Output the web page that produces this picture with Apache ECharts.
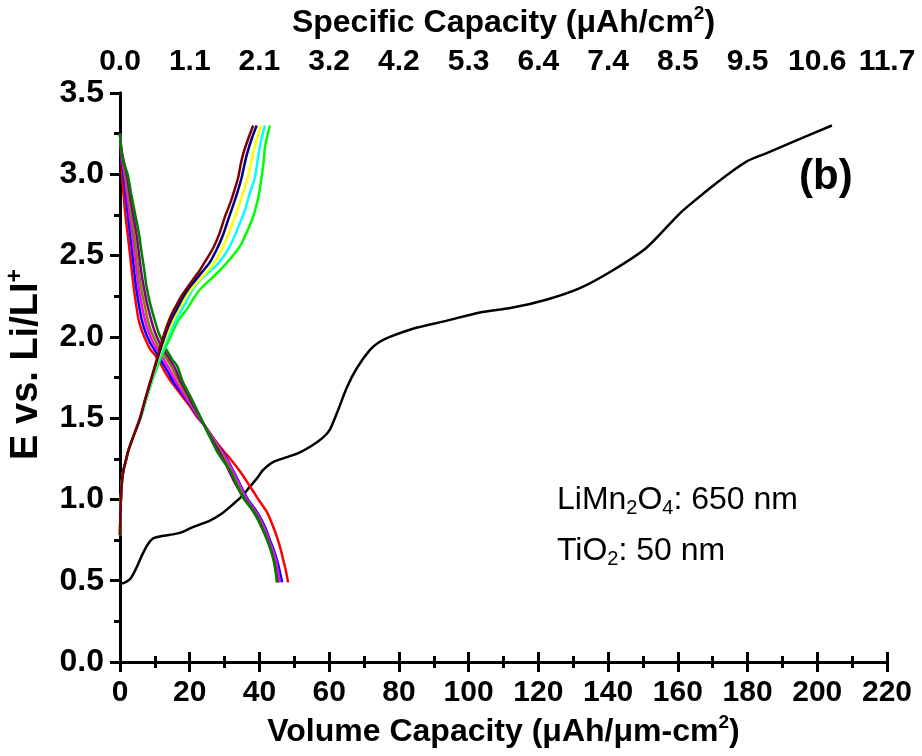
<!DOCTYPE html>
<html>
<head>
<meta charset="utf-8">
<script src="https://cdn.jsdelivr.net/npm/echarts@6/dist/echarts.min.js"></script>
<style>
  html, body { margin: 0; padding: 0; background: #fff; }
  #chart { width: 922px; height: 756px; }
</style>
</head>
<body>
<div id="chart"></div>
<script>
// Volume capacity (µAh/µm-cm²) vs. potential (V vs. Li/Li+), pairs of [capacity, E]

// Long first-cycle charge curve
const firstCharge = [[0,0.48],[1.5,0.49],[2.9,0.51],[4.5,0.57],[6.6,0.67],[8.2,0.73],[9.5,0.76],[12,0.775],[15.2,0.785],[18,0.80],[20.9,0.83],[25.8,0.87],[29,0.91],[32.4,0.97],[35,1.02],[37.3,1.08],[39.3,1.13],[41,1.18],[43.9,1.23],[47.9,1.26],[51.6,1.29],[55,1.33],[58.2,1.38],[60.2,1.43],[62.2,1.53],[65.1,1.69],[68,1.81],[71.7,1.92],[74.5,1.97],[77.4,2.0],[84,2.05],[93.8,2.10],[103.2,2.15],[112.7,2.18],[122.5,2.23],[131.9,2.30],[141.4,2.41],[151.1,2.55],[160.6,2.76],[165.5,2.85],[170.1,2.93],[175,3.01],[179.8,3.08],[185.5,3.13],[194.2,3.21],[204.2,3.30]];

// Discharge curves
const dischargeRed = [[0,3.25],[0.3,3.12],[0.6,3.0],[1.0,2.88],[1.5,2.76],[2.1,2.65],[2.8,2.52],[3.4,2.40],[3.9,2.31],[4.6,2.20],[5.4,2.10],[6.4,2.03],[7.6,1.97],[8.8,1.92],[10.0,1.89],[11.5,1.84],[13.0,1.78],[14.8,1.72],[17.3,1.65],[19.8,1.58],[22.0,1.51],[24.4,1.45],[27.0,1.37],[29.6,1.30],[31.6,1.25],[34.5,1.17],[37.3,1.08],[40.0,0.99],[42.2,0.92],[43.8,0.84],[45.0,0.77],[46.0,0.70],[46.8,0.63],[47.6,0.56],[48.2,0.49]];
const dischargeBlue = [[0,3.25],[0.3,3.14],[1.0,3.0],[1.6,2.88],[2.2,2.76],[2.8,2.65],[3.5,2.52],[4.1,2.40],[4.6,2.31],[5.4,2.20],[6.3,2.10],[7.3,2.03],[8.5,1.97],[9.6,1.93],[10.8,1.89],[12.2,1.84],[13.6,1.79],[15.4,1.72],[17.8,1.65],[20.2,1.58],[22.3,1.51],[24.4,1.45],[26.9,1.37],[29.2,1.30],[31.2,1.23],[33.8,1.12],[36.4,1.01],[38.4,0.95],[40.2,0.89],[41.8,0.82],[43.0,0.75],[44.1,0.69],[45.0,0.63],[45.8,0.56],[46.5,0.49]];
const dischargeMagenta = [[0,3.25],[0.4,3.14],[1.3,3.0],[2.0,2.88],[2.7,2.76],[3.4,2.65],[4.1,2.52],[4.8,2.40],[5.3,2.31],[6.2,2.20],[7.2,2.10],[8.2,2.03],[9.4,1.97],[10.5,1.93],[11.5,1.90],[12.8,1.85],[14.2,1.80],[15.9,1.73],[18.2,1.65],[20.4,1.58],[22.5,1.51],[24.4,1.45],[26.8,1.37],[29.0,1.30],[31.0,1.23],[33.6,1.12],[36.1,1.01],[38.1,0.95],[39.9,0.89],[41.5,0.82],[42.7,0.75],[43.8,0.69],[44.7,0.63],[45.3,0.56],[45.9,0.49]];
const dischargeOlive = [[0,3.25],[0.4,3.15],[1.6,3.0],[2.4,2.88],[3.2,2.76],[3.9,2.65],[4.7,2.52],[5.4,2.40],[6.0,2.31],[7.0,2.20],[8.0,2.10],[9.0,2.03],[10.3,1.97],[11.3,1.93],[12.3,1.90],[13.5,1.86],[14.9,1.81],[16.5,1.74],[18.6,1.66],[20.7,1.58],[22.7,1.51],[24.4,1.45],[26.6,1.37],[28.7,1.30],[30.7,1.22],[33.3,1.11],[35.8,1.01],[37.8,0.95],[39.6,0.89],[41.1,0.82],[42.4,0.75],[43.4,0.69],[44.2,0.63],[44.8,0.56],[45.3,0.49]];
const dischargePurple = [[0,3.25],[0.4,3.15],[1.9,3.0],[2.8,2.88],[3.7,2.76],[4.6,2.65],[5.4,2.52],[6.1,2.40],[6.8,2.31],[7.8,2.20],[9.0,2.10],[10.0,2.03],[11.2,1.97],[12.2,1.93],[13.1,1.90],[14.3,1.86],[15.7,1.81],[17.3,1.73],[19.3,1.65],[21.2,1.57],[22.9,1.51],[25.0,1.42],[26.9,1.35],[28.3,1.30],[30.5,1.21],[33.0,1.10],[35.5,1.01],[37.6,0.95],[39.4,0.89],[40.9,0.82],[42.3,0.75],[43.3,0.69],[44.1,0.63],[44.7,0.56],[45.2,0.49]];
const dischargeGreen = [[0,3.25],[0.4,3.15],[1.1,3.07],[2.2,3.0],[3.2,2.88],[4.3,2.76],[5.4,2.64],[6.2,2.52],[6.9,2.42],[7.6,2.31],[8.7,2.20],[10.0,2.10],[11.0,2.03],[12.0,1.98],[13.0,1.93],[13.9,1.90],[15.0,1.86],[16.4,1.82],[18.1,1.72],[20.5,1.62],[23.0,1.51],[25.4,1.40],[27.7,1.30],[29.5,1.24],[31.5,1.18],[33.5,1.09],[35.3,1.01],[37.4,0.95],[39.2,0.89],[40.8,0.82],[42.2,0.75],[43.2,0.69],[44.0,0.63],[44.6,0.56],[45.0,0.49]];

// Charge curves
const chargeLime = [[0,0.78],[0.1,0.9],[0.3,1.02],[0.6,1.12],[1.0,1.18],[1.7,1.24],[2.4,1.30],[3.7,1.38],[4.8,1.44],[5.9,1.50],[7.5,1.61],[9.1,1.72],[10.6,1.81],[12.1,1.89],[13.6,1.96],[15.1,2.03],[16.7,2.10],[18.1,2.14],[19.5,2.18],[21.2,2.24],[22.9,2.29],[25.8,2.35],[28.7,2.41],[31.2,2.47],[33.5,2.53],[35.0,2.58],[36.3,2.64],[37.5,2.70],[38.5,2.76],[39.7,2.86],[40.6,2.98],[41.2,3.08],[41.6,3.17],[42.3,3.24],[43.0,3.30]];
const chargeCyan = [[0,0.78],[0.1,0.9],[0.3,1.02],[0.6,1.12],[1.0,1.18],[1.7,1.24],[2.4,1.30],[3.7,1.38],[4.8,1.44],[5.9,1.50],[7.4,1.61],[9.0,1.72],[10.4,1.82],[11.8,1.90],[13.2,1.97],[14.6,2.04],[16.0,2.10],[17.5,2.16],[19.1,2.22],[20.8,2.29],[23.1,2.35],[25.6,2.40],[28.1,2.45],[30.5,2.52],[32.5,2.60],[34.2,2.69],[35.7,2.77],[36.9,2.86],[38.7,2.98],[39.3,3.06],[39.8,3.13],[40.6,3.22],[41.6,3.30]];
const chargeYellow = [[0,0.78],[0.1,0.9],[0.3,1.02],[0.6,1.12],[1.0,1.18],[1.7,1.24],[2.4,1.30],[3.7,1.38],[4.8,1.44],[5.8,1.50],[7.3,1.61],[8.8,1.72],[10.2,1.82],[11.6,1.91],[12.9,1.98],[14.2,2.05],[15.5,2.11],[16.9,2.17],[18.6,2.23],[20.3,2.29],[22.4,2.34],[24.5,2.39],[26.8,2.45],[28.8,2.52],[30.7,2.61],[32.3,2.70],[33.7,2.78],[34.9,2.86],[36.7,2.98],[37.5,3.06],[38.2,3.13],[39.3,3.22],[40.6,3.30]];
const chargeNavy = [[0,0.78],[0.1,0.9],[0.3,1.02],[0.6,1.12],[1.0,1.18],[1.7,1.24],[2.4,1.30],[3.7,1.38],[4.8,1.44],[5.8,1.50],[7.2,1.61],[8.7,1.72],[10.1,1.82],[11.4,1.91],[12.6,1.99],[13.8,2.06],[15.0,2.12],[16.3,2.17],[18.0,2.24],[19.8,2.30],[21.7,2.35],[23.6,2.40],[25.8,2.46],[27.8,2.54],[29.6,2.63],[31.0,2.72],[32.3,2.80],[33.4,2.87],[34.9,2.98],[35.7,3.06],[36.5,3.13],[37.8,3.22],[39.2,3.30]];
const chargeMaroon = [[0,0.78],[0.1,0.9],[0.3,1.02],[0.6,1.12],[1.0,1.18],[1.7,1.24],[2.4,1.30],[3.7,1.38],[4.7,1.44],[5.7,1.50],[7.1,1.61],[8.6,1.72],[10.0,1.82],[11.3,1.92],[12.4,2.0],[13.5,2.07],[14.6,2.13],[15.8,2.18],[17.6,2.25],[19.5,2.31],[21.2,2.36],[22.9,2.41],[24.9,2.48],[26.8,2.55],[28.6,2.64],[30.1,2.74],[31.4,2.81],[32.5,2.88],[33.9,2.98],[34.6,3.06],[35.4,3.13],[36.8,3.22],[38.2,3.30]];

// Top axis: specific capacity labels at the same positions as the bottom ticks
const specificCapacityLabels = ['0.0','1.1','2.1','3.2','4.2','5.3','6.4','7.4','8.5','9.5','10.6','11.7'];

const FONT = 'Liberation Sans, Arial, sans-serif';

const curves = [
  { data: firstCharge, color: '#000000' },
  { data: dischargeRed, color: '#ff0000' },
  { data: dischargeBlue, color: '#0000ff' },
  { data: dischargeMagenta, color: '#ff00ff' },
  { data: dischargeOlive, color: '#808000' },
  { data: dischargePurple, color: '#800080' },
  { data: dischargeGreen, color: '#008000' },
  { data: chargeLime, color: '#00ff00' },
  { data: chargeCyan, color: '#00ffff' },
  { data: chargeYellow, color: '#ffff00' },
  { data: chargeNavy, color: '#000080' },
  { data: chargeMaroon, color: '#800000' }
];

const tickLabelStyle = { color: '#000', fontFamily: FONT, fontWeight: 'bold', fontSize: 30 };
const axisLineStyle = { show: true, lineStyle: { color: '#000', width: 3 } };
function nameStyle(size) {
  return {
    color: '#000', fontFamily: FONT, fontWeight: 'bold', fontSize: size, lineHeight: size + 6,
    rich: {
      sup: { fontFamily: FONT, fontWeight: 'bold', fontSize: Math.round(size * 0.6), lineHeight: 14, verticalAlign: 'top' }
    }
  };
}
const majorTick = { show: true, inside: false, length: 10, lineStyle: { color: '#000', width: 3 } };
const minorTick = { show: true, splitNumber: 2, length: 6, lineStyle: { color: '#000', width: 3 } };

const chart = echarts.init(document.getElementById('chart'), null, { renderer: 'canvas' });

chart.setOption({
  animation: false,
  backgroundColor: '#fff',
  grid: { left: 120, right: 35, top: 93, bottom: 94, containLabel: false, outerBoundsMode: 'none' },
  xAxis: [
    {
      type: 'value', position: 'bottom', min: 0, max: 220, interval: 20,
      name: 'Volume Capacity (μAh/μm-cm{sup|2})', nameLocation: 'middle', nameGap: 44,
      nameTextStyle: nameStyle(32),
      axisLine: axisLineStyle, axisTick: majorTick, minorTick: minorTick,
      axisLabel: Object.assign({ margin: 16 }, tickLabelStyle),
      splitLine: { show: false }
    },
    {
      type: 'value', position: 'top', min: 0, max: 220, interval: 20,
      name: 'Specific Capacity (μAh/cm{sup|2})', nameLocation: 'middle', nameGap: 40,
      nameTextStyle: nameStyle(32),
      axisLine: axisLineStyle, axisTick: majorTick, minorTick: minorTick,
      axisLabel: Object.assign({
        margin: 16,
        formatter: function (v) { return specificCapacityLabels[Math.round(v / 20)]; }
      }, tickLabelStyle),
      splitLine: { show: false }
    }
  ],
  yAxis: [
    {
      type: 'value', position: 'left', min: 0, max: 3.5, interval: 0.5,
      name: 'E vs. Li/LI{sup|+}', nameLocation: 'middle', nameGap: 70, nameRotate: 90,
      nameTextStyle: Object.assign(nameStyle(38), { padding: [0, 0, 0, 26] }),
      axisLine: axisLineStyle, axisTick: majorTick, minorTick: minorTick,
      axisLabel: Object.assign({ margin: 16, formatter: function (v) { return v.toFixed(1); } },
        tickLabelStyle, { fontSize: 32 }),
      splitLine: { show: false }
    },
    {
      type: 'value', position: 'right', min: 0, max: 3.5, interval: 0.25,
      axisLine: axisLineStyle,
      axisTick: { show: true, inside: true, length: 3, lineStyle: { color: '#000', width: 2 } },
      axisLabel: { show: false },
      splitLine: { show: false }
    }
  ],
  series: curves.map(function (c) {
    return {
      type: 'line', data: c.data, xAxisIndex: 0, yAxisIndex: 0,
      smooth: 0.25, showSymbol: false, symbol: 'none',
      lineStyle: { color: c.color, width: 2.5 },
      itemStyle: { color: c.color },
      silent: true
    };
  }),
  graphic: [
    {
      type: 'text', left: 799, top: 156,
      style: { text: '(b)', fill: '#000', font: 'bold 42px ' + FONT }
    },
    {
      type: 'text', left: 557, top: 482,
      style: {
        text: 'LiMn{sub|2}O{sub|4}: 650 nm',
        fill: '#000', fontFamily: FONT, fontSize: 32, lineHeight: 36,
        rich: { sub: { fontFamily: FONT, fontSize: 20, lineHeight: 14, verticalAlign: 'bottom' } }
      }
    },
    {
      type: 'text', left: 557, top: 533,
      style: {
        text: 'TiO{sub|2}: 50 nm',
        fill: '#000', fontFamily: FONT, fontSize: 32, lineHeight: 36,
        rich: { sub: { fontFamily: FONT, fontSize: 20, lineHeight: 14, verticalAlign: 'bottom' } }
      }
    }
  ]
});
</script>
</body>
</html>
